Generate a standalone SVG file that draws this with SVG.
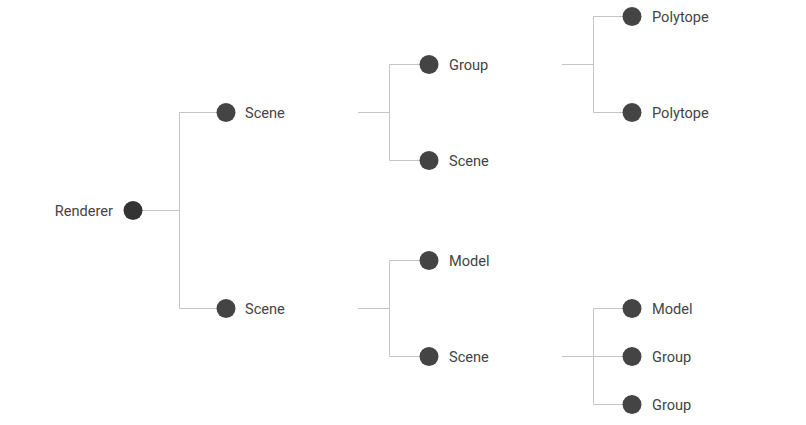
<svg xmlns="http://www.w3.org/2000/svg" width="806" height="425" viewBox="0 0 806 425">
<style>
.edge{fill:none;stroke:#c4c4c4;stroke-width:1}
.dot{fill:#444}
.root{fill:#333}
text{font-family:Roboto,"Liberation Sans",sans-serif;font-size:14.6px;fill:#444}
</style>
<rect width="806" height="425" fill="#fff"/>
<g id="connectors">
<path class="edge" d="M142 210.5H179.5M179.5 112.5V308.5M179.5 112.5H226M179.5 308.5H226"/>
<path class="edge" d="M358 112.5H389.5M389.5 64.5V160.5M389.5 64.5H429M389.5 160.5H429"/>
<path class="edge" d="M358 308.5H389.5M389.5 260.5V356.5M389.5 260.5H429M389.5 356.5H429"/>
<path class="edge" d="M562 64.5H593.5M593.5 16.5V112.5M593.5 16.5H632M593.5 112.5H632"/>
<path class="edge" d="M562 356.5H593.5M593.5 308.5V404.5M593.5 308.5H632M593.5 356.5H632M593.5 404.5H632"/>
</g>
<g id="n-renderer"><circle class="root" cx="133" cy="210.5" r="9.5"/><text x="113" y="216" text-anchor="end">Renderer</text></g>
<g id="n-scene1"><circle class="dot" cx="226" cy="112.5" r="9.5"/><text x="245" y="118">Scene</text></g>
<g id="n-scene2"><circle class="dot" cx="226" cy="308.5" r="9.5"/><text x="245" y="314">Scene</text></g>
<g id="n-group1"><circle class="dot" cx="429" cy="64.5" r="9.5"/><text x="449" y="70">Group</text></g>
<g id="n-scene3"><circle class="dot" cx="429" cy="160.5" r="9.5"/><text x="449" y="166">Scene</text></g>
<g id="n-model1"><circle class="dot" cx="429" cy="260.5" r="9.5"/><text x="449" y="266">Model</text></g>
<g id="n-scene4"><circle class="dot" cx="429" cy="356.5" r="9.5"/><text x="449" y="362">Scene</text></g>
<g id="n-poly1"><circle class="dot" cx="632" cy="16.5" r="9.5"/><text x="652" y="22">Polytope</text></g>
<g id="n-poly2"><circle class="dot" cx="632" cy="112.5" r="9.5"/><text x="652" y="118">Polytope</text></g>
<g id="n-model2"><circle class="dot" cx="632" cy="308.5" r="9.5"/><text x="652" y="314">Model</text></g>
<g id="n-group2"><circle class="dot" cx="632" cy="356.5" r="9.5"/><text x="652" y="362">Group</text></g>
<g id="n-group3"><circle class="dot" cx="632" cy="404.5" r="9.5"/><text x="652" y="410">Group</text></g>
</svg>
